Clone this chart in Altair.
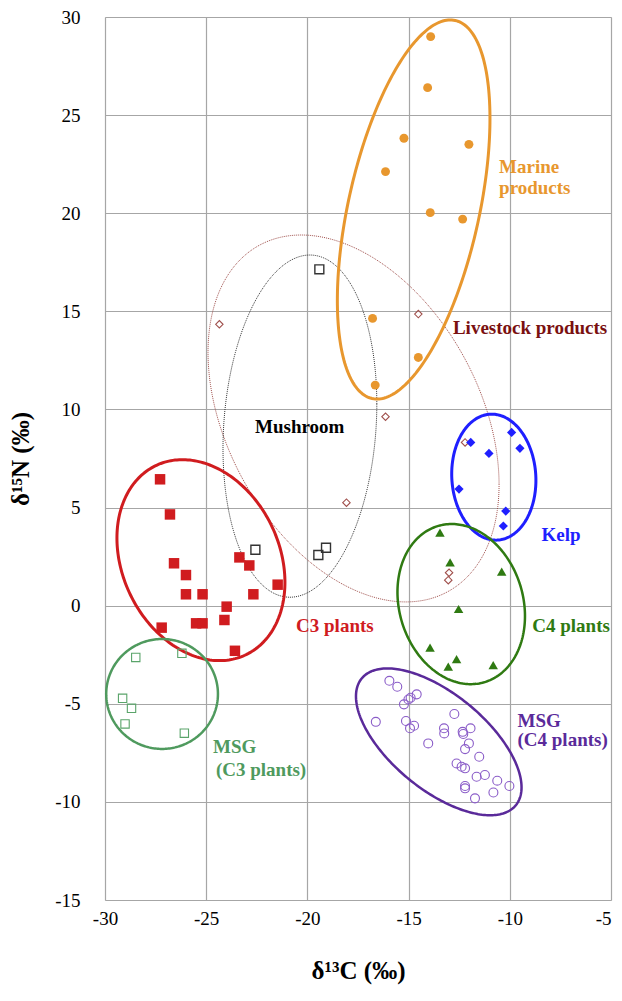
import altair as alt
import numpy as np
import pandas as pd

# ---------------- data ----------------
c3_x = [-27.28, -26.79, -26.59, -26.0, -26.0, -25.18, -25.5, -25.18, -23.99, -24.1, -23.58, -27.2, -23.36, -22.87, -22.67, -21.47]
c3_y = [6.44, 4.65, 2.16, 1.56, 0.58, 0.58, -0.9, -0.9, -0.05, -0.73, -2.3, -1.12, 2.46, 2.05, 0.58, 1.07]

msg3_x = [-28.48, -26.2, -29.13, -28.69, -29.01, -26.08]
msg3_y = [-2.64, -2.43, -4.72, -5.23, -6.03, -6.5]

msg4_x = [-15.95, -15.56, -14.6, -14.9, -15.01, -15.23, -16.62, -15.13, -14.93, -14.73, -14.03,
          -13.25, -13.24, -12.74, -12.33, -12.3, -11.94, -12.02, -12.21, -11.51, -12.63, -12.38,
          -12.21, -11.64, -11.23, -10.62, -10.02, -12.21, -12.21, -10.81, -11.72]
msg4_y = [-3.83, -4.13, -4.52, -4.69, -4.78, -5.03, -5.92, -5.88, -6.25, -6.12, -7.02,
          -6.25, -6.51, -5.52, -6.43, -6.54, -6.25, -7.02, -7.31, -7.7, -8.04, -8.21,
          -8.29, -8.72, -8.63, -8.92, -9.19, -9.19, -9.31, -9.52, -9.82]

c4_x = [-13.45, -12.95, -10.4, -12.53, -13.94, -12.63, -13.04, -10.82]
c4_y = [3.72, 2.21, 1.73, -0.17, -2.14, -2.72, -3.11, -3.03]

kelp_x = [-11.93, -9.91, -9.5, -11.03, -12.51, -10.2, -10.32]
kelp_y = [8.32, 8.83, 8.02, 7.76, 5.94, 4.82, 4.06]

live_x = [-24.35, -14.52, -16.14, -18.07, -13.0, -13.04, -12.21]
live_y = [14.34, 14.86, 9.63, 5.25, 1.68, 1.3, 8.32]

mush_x = [-19.41, -22.57, -19.08, -19.46]
mush_y = [17.14, 2.85, 2.95, 2.58]

marine_x = [-13.91, -14.06, -15.23, -12.02, -16.14, -13.93, -12.33, -16.78, -14.52, -16.65]
marine_y = [29.0, 26.4, 23.82, 23.51, 22.12, 20.03, 19.7, 14.64, 12.65, 11.24]

# ellipse outlines: centre x, centre y, half-width, half-height, correlation
ell_names = ["Livestock", "Mushroom", "Marine", "C3", "MSG3", "Kelp", "C4", "MSG4"]
ell_cx = [-17.72, -20.37, -14.75, -25.26, -27.18, -10.79, -12.4, -13.51]
ell_cy = [9.54, 9.15, 20.19, 2.32, -4.5, 6.55, 0.08, -6.94]
ell_hw = [7.19, 3.8, 3.77, 4.15, 2.76, 2.08, 3.15, 4.09]
ell_hh = [9.35, 8.72, 9.66, 5.12, 2.80, 3.21, 4.08, 3.74]
ell_rho = [-0.36, 0.13, 0.48, -0.22, 0.0, -0.05, -0.15, -0.62]
ell_color = ["#a0504c", "#333333", "#e8972e", "#d01c1f", "#4f9a5e", "#1f1fff", "#2f7a12", "#5a2a9a"]
ell_width = [1.0, 1.0, 3.0, 3.0, 2.5, 3.0, 2.5, 2.5]
ell_dash = [[1, 1], [1, 1], None, None, None, None, None, None]

labels = ["Marine", "products", "Livestock products", "Mushroom", "Kelp", "C4 plants",
          "C3 plants", "MSG", "(C4 plants)", "MSG", "(C3 plants)"]
lab_x = [-10.53, -10.53, -12.81, -20.38, -8.43, -8.89, -20.56, -9.62, -9.62, -24.66, -24.52]
lab_y = [22.35, 21.28, 14.13, 9.1, 3.6, -1.04, -1.04, -5.88, -6.85, -7.2, -8.38]
lab_color = ["#e8972e", "#e8972e", "#7a1010", "#000000", "#1f1fff", "#2f7a12",
             "#d01c1f", "#5a2a9a", "#5a2a9a", "#4f9a5e", "#4f9a5e"]
lab_align = ["left", "left", "left", "center", "left", "left", "left", "left", "left", "left", "left"]

FONT = "Liberation Serif"

xs = alt.Scale(domain=[-30, -5], nice=False, zero=False)
ys = alt.Scale(domain=[-15, 30], nice=False, zero=False)

x_axis = alt.Axis(values=[-30, -25, -20, -15, -10, -5], title="δ¹³C (‰)", grid=True,
                  domain=False, ticks=False, labelPadding=9, labelFlush=False,
                  labelExpr="'' + datum.value",
                  labelAlign={"condition": {"test": "datum.value == -5", "value": "right"}, "value": "center"},
                  labelFont=FONT, labelFontSize=19, labelColor="#000",
                  titleFont=FONT, titleFontSize=25, titleFontWeight="bold", titleColor="#000",
                  titleBaseline="alphabetic", titleY=78,
                  gridColor="#a6a6a6", gridWidth=1.2)
y_axis = alt.Axis(values=[-15, -10, -5, 0, 5, 10, 15, 20, 25, 30], title="δ¹⁵N (‰)", grid=True,
                  domain=False, ticks=False, labelPadding=25, labelFlush=False,
                  labelExpr="'' + datum.value",
                  labelFont=FONT, labelFontSize=19, labelColor="#000",
                  titleFont=FONT, titleFontSize=25, titleFontWeight="bold", titleColor="#000",
                  titleBaseline="middle", titleX=-85,
                  gridColor="#a6a6a6", gridWidth=1.2)

layers = []

base = pd.DataFrame({"x": [-30, -5], "y": [-15, 30]})
layers.append(alt.Chart(base).mark_point(opacity=0).encode(
    x=alt.X("x:Q", scale=xs, axis=x_axis), y=alt.Y("y:Q", scale=ys, axis=y_axis)))

t = np.linspace(0, 2 * np.pi, 241)
for i, name in enumerate(ell_names):
    r = ell_rho[i]
    df = pd.DataFrame({
        "t": t,
        "x": ell_cx[i] + ell_hw[i] * np.cos(t),
        "y": ell_cy[i] + ell_hh[i] * (r * np.cos(t) + np.sqrt(1 - r * r) * np.sin(t)),
    })
    kw = dict(color=ell_color[i], strokeWidth=ell_width[i])
    if ell_dash[i] is not None:
        kw["strokeDash"] = ell_dash[i]
    layers.append(alt.Chart(df).mark_line(**kw).encode(
        x=alt.X("x:Q", scale=xs), y=alt.Y("y:Q", scale=ys), order="t:Q"))


def pts(xv, yv, shape, color, filled, size, sw=1.2):
    df = pd.DataFrame({"x": xv, "y": yv})
    if filled:
        m = alt.Chart(df).mark_point(shape=shape, filled=True, color=color, size=size, opacity=1)
    else:
        m = alt.Chart(df).mark_point(shape=shape, filled=False, color=color, size=size,
                                     strokeWidth=sw, opacity=1)
    return m.encode(x=alt.X("x:Q", scale=xs), y=alt.Y("y:Q", scale=ys))


layers.append(pts(live_x, live_y, "diamond", "#a0504c", False, 55, 1.1))
layers.append(pts(mush_x, mush_y, "square", "#333333", False, 80, 1.4))
layers.append(pts(marine_x, marine_y, "circle", "#e8972e", True, 80))
layers.append(pts(c3_x, c3_y, "square", "#d01c1f", True, 110))
layers.append(pts(msg3_x, msg3_y, "square", "#5aa46a", False, 70, 1.1))
layers.append(pts(kelp_x, kelp_y, "diamond", "#1f1fff", True, 85))
layers.append(pts(c4_x, c4_y, "triangle-up", "#2f7a12", True, 90))
layers.append(pts(msg4_x, msg4_y, "circle", "#8a5cc8", False, 80, 1.1))

lab_df = pd.DataFrame({"x": lab_x, "y": lab_y, "text": labels, "color": lab_color, "align": lab_align})
for al in ["left", "center"]:
    sub = lab_df[lab_df["align"] == al]
    layers.append(alt.Chart(sub).mark_text(font=FONT, fontSize=19, fontWeight="bold",
                                           align=al, baseline="middle").encode(
        x=alt.X("x:Q", scale=xs), y=alt.Y("y:Q", scale=ys), text="text:N",
        color=alt.Color("color:N", scale=None)))

chart = alt.layer(*layers).properties(
    width=506, height=883,
    autosize=alt.AutoSizeParams(type="none"),
    padding={"left": 97, "top": 9, "right": 3, "bottom": 88},
).configure_view(stroke="#8c8c8c", strokeWidth=2.5).configure(background="white")

chart.save("out.html", embed_options={"renderer": "svg", "actions": False})
